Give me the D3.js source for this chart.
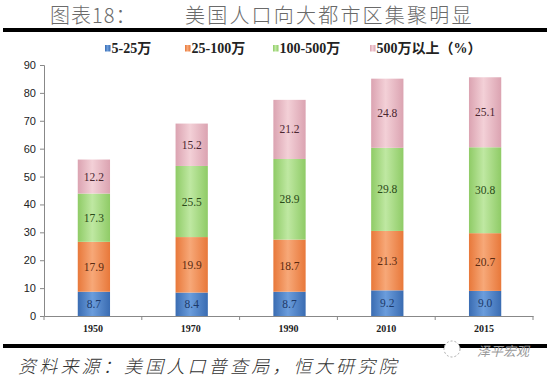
<!DOCTYPE html>
<html><head><meta charset="utf-8">
<script src="https://cdn.jsdelivr.net/npm/d3@7"></script>
<style>
html,body{margin:0;padding:0;background:#fff;}
svg{display:block;}
</style></head>
<body>
<svg id="chart" width="550" height="381"></svg>
<script>
const years = ["1950","1970","1990","2010","2015"];
const seriesNames = ["5-25万","25-100万","100-500万","500万以上（%）"];
const small = [8.7, 8.4, 8.7, 9.2, 9.0];
const medium = [17.9, 19.9, 18.7, 21.3, 20.7];
const large = [17.3, 25.5, 28.9, 29.8, 30.8];
const huge = [12.2, 15.2, 21.2, 24.8, 25.1];
const yTicks = [0,10,20,30,40,50,60,70,80,90];
const colors = [
  {edge:"#3a6cb2", mid:"#6b9ddc", text:"#1d3a6a"},
  {edge:"#e8783a", mid:"#f7a878", text:"#5a2a10"},
  {edge:"#8fcb66", mid:"#bfe8a2", text:"#2a4a18"},
  {edge:"#dba3b1", mid:"#f3d0d7", text:"#4a2630"}
];

const rows = years.map((y,i)=>({year:y, s0:small[i], s1:medium[i], s2:large[i], s3:huge[i]}));
const keys = ["s0","s1","s2","s3"];
const stacked = d3.stack().keys(keys)(rows);

const svg = d3.select("#chart");
const mLeft = 44, mRight = 533, mTop = 65, mBottom = 316;

const x = d3.scaleBand().domain(years).range([mLeft,mRight]).padding(0);
const y = d3.scaleLinear().domain([0,90]).range([mBottom,mTop]);
const barW = x.bandwidth()*0.33;

// gradients
const defs = svg.append("defs");
colors.forEach((c,i)=>{
  const g = defs.append("linearGradient").attr("id","g"+i).attr("x1","0").attr("x2","1").attr("y1","0").attr("y2","0");
  g.append("stop").attr("offset","0%").attr("stop-color",c.edge);
  g.append("stop").attr("offset","45%").attr("stop-color",c.mid);
  g.append("stop").attr("offset","100%").attr("stop-color",c.edge);
});

// title
svg.append("text").attr("x",50).attr("y",23).attr("font-family","'Noto Sans CJK SC'").attr("font-weight",300)
  .attr("font-size",20).attr("fill","#6a6a6a").attr("letter-spacing",1).text("图表18：");
svg.append("text").attr("x",185).attr("y",23).attr("font-family","'Noto Sans CJK SC'").attr("font-weight",300)
  .attr("font-size",20).attr("fill","#6a6a6a").attr("letter-spacing",2.2).text("美国人口向大都市区集聚明显");
svg.append("rect").attr("x",3).attr("y",28).attr("width",544).attr("height",4).attr("fill","#000");

// legend
const legendX = [105,185,273,370];
seriesNames.forEach((n,i)=>{
  svg.append("rect").attr("x",legendX[i]).attr("y",45).attr("width",5.5).attr("height",6.5)
    .attr("fill","url(#g"+i+")");
  svg.append("text").attr("x",legendX[i]+6.5).attr("y",53).attr("font-family","'Liberation Serif','Noto Sans CJK SC'")
    .attr("font-weight","bold").attr("font-size",14).attr("fill","#222").text(n);
});

// y axis
const yAxis = svg.append("g").attr("transform",`translate(${mLeft},0)`)
  .call(d3.axisLeft(y).tickValues(yTicks).tickSize(4).tickPadding(4));
yAxis.select(".domain").attr("stroke","#888");
yAxis.selectAll(".tick line").attr("stroke","#888");
yAxis.selectAll("text").attr("font-family","'Liberation Sans',Arial").attr("font-size",11).attr("fill","#222");

// x axis
const xAxis = svg.append("g").attr("transform",`translate(0,${mBottom})`)
  .call(d3.axisBottom(x).tickSize(0).tickPadding(9));
xAxis.select(".domain").attr("stroke","#888");
xAxis.selectAll("text").attr("font-family","'Liberation Serif',serif").attr("font-weight","bold").attr("font-size",10).attr("fill","#222");
// band boundary tick marks
const bounds = years.map(d=>x(d)).concat([x(years[years.length-1])+x.bandwidth()]);
svg.append("g").selectAll("line").data(bounds).join("line")
  .attr("x1",d=>d).attr("x2",d=>d).attr("y1",mBottom).attr("y2",mBottom+4).attr("stroke","#888");

// bars
stacked.forEach((layer,i)=>{
  const g = svg.append("g");
  g.selectAll("rect").data(layer).join("rect")
    .attr("x",d=>x(d.data.year)+x.bandwidth()/2-barW/2+1)
    .attr("width",barW)
    .attr("y",d=>y(d[1]))
    .attr("height",d=>y(d[0])-y(d[1]))
    .attr("fill","url(#g"+i+")");
  g.selectAll("text").data(layer).join("text")
    .attr("x",d=>x(d.data.year)+x.bandwidth()/2+1)
    .attr("y",d=>(y(d[0])+y(d[1]))/2+4)
    .attr("text-anchor","middle")
    .attr("font-family","'Liberation Serif',serif").attr("font-size",11.5)
    .attr("fill",colors[i].text)
    .text(d=>(d[1]-d[0]).toFixed(1));
});

// bottom line & source
svg.append("rect").attr("x",3).attr("y",344).attr("width",544).attr("height",4).attr("fill","#000");
svg.append("text").attr("x",18).attr("y",373).attr("font-family","'Noto Sans CJK SC'").attr("font-style","italic")
  .attr("font-weight",300).attr("font-size",18).attr("fill","#333").attr("letter-spacing",3.2)
  .text("资料来源：美国人口普查局，恒大研究院");
// watermark
svg.append("circle").attr("cx",452).attr("cy",349).attr("r",8).attr("fill","#fff")
  .attr("stroke","#aaa").attr("stroke-dasharray","2,2");
svg.append("text").attr("x",477).attr("y",356).attr("font-family","'Noto Sans CJK SC'").attr("font-style","italic")
  .attr("font-size",13).attr("fill","#999").text("泽平宏观");
</script>
</body></html>
